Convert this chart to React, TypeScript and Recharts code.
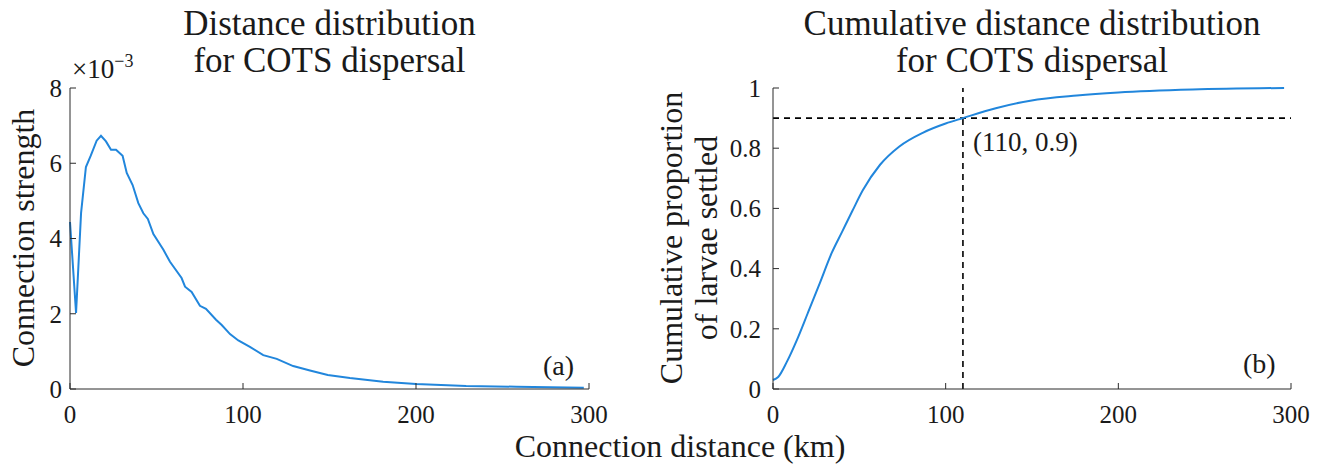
/**
 * COTS dispersal — distance distribution (a) and its cumulative curve (b).
 */
import { LineChart, Line, XAxis, YAxis, ReferenceLine, ReferenceDot } from "recharts";

// (a) connection strength vs distance, strength in units of 1e-3
const distanceKm = [
  0, 3.5, 6.4, 9.2, 12, 15.4, 17.9, 20.8, 23.7, 26.6, 30.4, 32.8, 36.2, 39.5, 42.4, 45,
  48.2, 54, 57.8, 64.5, 66.5, 70.3, 75.1, 78.6, 84.4, 87.7, 92.5, 97.3, 104, 111.7,
  119.5, 129, 138.7, 149, 161.8, 181, 200, 229, 258, 297,
];
const strengthE3 = [
  4.44, 2.02, 4.68, 5.9, 6.2, 6.6, 6.73, 6.58, 6.36, 6.36, 6.2, 5.74, 5.42, 4.94, 4.67, 4.52,
  4.12, 3.7, 3.38, 2.95, 2.72, 2.58, 2.21, 2.13, 1.84, 1.7, 1.46, 1.29, 1.12, 0.9,
  0.8, 0.61, 0.49, 0.37, 0.29, 0.19, 0.13, 0.08, 0.06, 0.035,
];

// (b) cumulative proportion of larvae settled
const cumDistanceKm = [
  0, 3, 8, 14, 20, 27, 34, 40, 46, 52, 62, 73, 87, 100, 110, 129, 149, 176, 200, 243, 296,
];
const cumProportion = [
  0.03, 0.04, 0.09, 0.165, 0.25, 0.35, 0.452, 0.522, 0.592, 0.66, 0.745, 0.805, 0.852, 0.882,
  0.9, 0.933, 0.958, 0.975, 0.985, 0.995, 1.0,
];

const xTicks = [0, 100, 200, 300];
const strengthTicks = [0, 2, 4, 6, 8];
const cumTicks = [0, 0.2, 0.4, 0.6, 0.8, 1];
const markDistance = 110;
const markProportion = 0.9;

const strengthRows = distanceKm.map((d, i) => ({ distance: d, strength: strengthE3[i] }));
const cumRows = cumDistanceKm.map((d, i) => ({ distance: d, proportion: cumProportion[i] }));

const FONT = "Liberation Serif";
const INK = "#1a1a1a";
const AXIS = "#2b2b2b";
const BLUE = "#2186dc";

const tickStyle = { fontFamily: FONT, fontSize: 25, fill: INK };

function fmtCum(v: number) {
  if (v === 0 || v === 1) return String(v);
  return v.toFixed(1);
}

export default function App() {
  return (
    <div style={{ position: "fixed", left: 0, top: 0, width: 1321, height: 470, background: "#fff", fontFamily: FONT }}>
      <div style={{ position: "absolute", left: 0, top: 0 }}>
        <LineChart width={660} height={470} data={strengthRows} margin={{ top: 88, right: 71, bottom: 51, left: 10 }}>
          <XAxis
            dataKey="distance"
            type="number"
            domain={[0, 300]}
            ticks={xTicks}
            height={30}
            stroke={AXIS}
            tickSize={-6}
            tickMargin={22}
            tick={tickStyle}
          />
          <YAxis
            type="number"
            domain={[0, 8]}
            ticks={strengthTicks}
            width={60}
            stroke={AXIS}
            tickSize={-6}
            tickMargin={14}
            tick={tickStyle}
          />
          <Line
            dataKey="strength"
            type="linear"
            stroke={BLUE}
            strokeWidth={2}
            dot={false}
            isAnimationActive={false}
          />
        </LineChart>
      </div>

      <div style={{ position: "absolute", left: 660, top: 0 }}>
        <LineChart width={661} height={470} data={cumRows} margin={{ top: 88, right: 30, bottom: 51, left: 53 }}>
          <XAxis
            dataKey="distance"
            type="number"
            domain={[0, 300]}
            ticks={xTicks}
            height={30}
            stroke={AXIS}
            tickSize={-6}
            tickMargin={22}
            tick={tickStyle}
          />
          <YAxis
            type="number"
            domain={[0, 1]}
            ticks={cumTicks}
            width={60}
            stroke={AXIS}
            tickSize={-6}
            tickMargin={18}
            tickFormatter={fmtCum}
            tick={tickStyle}
          />
          <ReferenceLine y={markProportion} stroke="#000" strokeWidth={1.6} strokeDasharray="6 5" />
          <ReferenceLine x={markDistance} stroke="#000" strokeWidth={1.6} strokeDasharray="6 5" />
          <Line
            dataKey="proportion"
            type="monotone"
            stroke={BLUE}
            strokeWidth={2}
            dot={false}
            isAnimationActive={false}
          />
          <ReferenceDot
            x={markDistance}
            y={markProportion}
            r={0}
            shape={(p: any) => (
              <text x={p.cx + 10} y={p.cy + 33} style={{ fontFamily: FONT }} fontSize={27} fill={INK}>
                ({markDistance}, {markProportion})
              </text>
            )}
          />
        </LineChart>
      </div>

      {/* titles, axis labels, panel letters */}
      <svg width={1321} height={470} style={{ position: "absolute", left: 0, top: 0, pointerEvents: "none", fontFamily: FONT }}>
        <g fill={INK}>
          <text x={329.5} y={35} fontSize={35} textAnchor="middle">Distance distribution</text>
          <text x={329.5} y={72} fontSize={35} textAnchor="middle">for COTS dispersal</text>
          <text x={1032} y={35} fontSize={35} textAnchor="middle">Cumulative distance distribution</text>
          <text x={1032} y={72} fontSize={35} textAnchor="middle">for COTS dispersal</text>

          <text x={72} y={78} fontSize={27}>
            ×10<tspan fontSize={18} dy={-11}>−3</tspan>
          </text>

          <text transform="translate(34,238) rotate(-90)" fontSize={32} textAnchor="middle">Connection strength</text>
          <text transform="translate(682,238) rotate(-90)" fontSize={32} textAnchor="middle">Cumulative proportion</text>
          <text transform="translate(717,238) rotate(-90)" fontSize={32} textAnchor="middle">of larvae settled</text>

          <text x={680} y={457} fontSize={32} textAnchor="middle">Connection distance (km)</text>

          <text x={543} y={375} fontSize={28}>(a)</text>
          <text x={1243} y={373} fontSize={28}>(b)</text>
        </g>
      </svg>
    </div>
  );
}
